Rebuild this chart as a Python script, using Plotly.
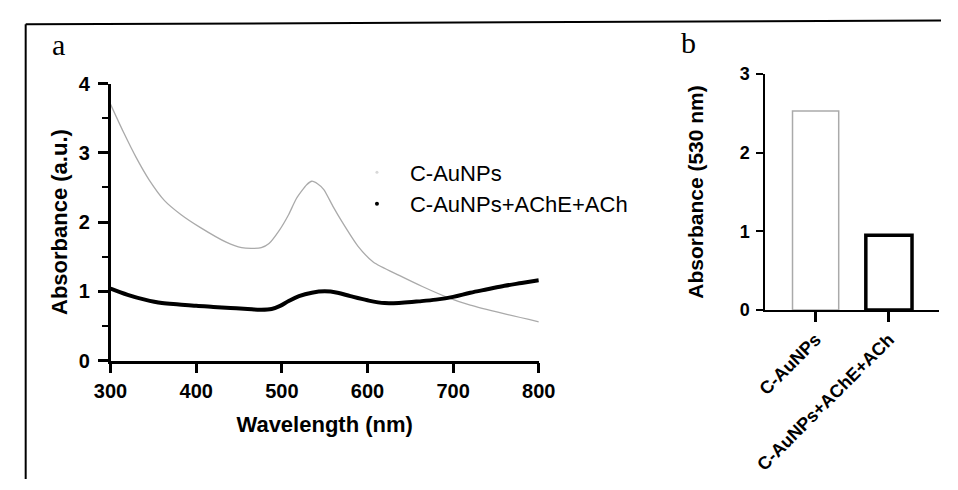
import plotly.graph_objects as go

# ---------------- data ----------------
# Panel a: UV-vis spectra
wl_aunp = [300, 315, 330, 345, 363, 382, 405, 435, 453, 465, 476, 485, 497, 508, 517,
           529, 535, 542, 549, 560, 570, 589, 607, 637, 664, 694, 720, 758, 800]
abs_aunp = [3.70, 3.30, 2.93, 2.61, 2.31, 2.11, 1.92, 1.71, 1.63, 1.62, 1.63, 1.69, 1.88, 2.11, 2.34,
            2.54, 2.59, 2.55, 2.47, 2.22, 2.01, 1.65, 1.42, 1.23, 1.07, 0.91, 0.80, 0.68, 0.56]

wl_mix = [300, 320, 340, 360, 380, 400, 420, 440, 460, 475, 488, 498, 508, 520, 535, 550, 565,
          580, 600, 620, 640, 660, 680, 700, 720, 740, 760, 780, 800]
abs_mix = [1.04, 0.95, 0.88, 0.83, 0.81, 0.79, 0.775, 0.76, 0.745, 0.735, 0.745, 0.79, 0.86, 0.93,
           0.98, 1.00, 0.98, 0.93, 0.87, 0.83, 0.835, 0.855, 0.88, 0.92, 0.98, 1.03, 1.08, 1.12, 1.16]

series_names = ["C-AuNPs", "C-AuNPs+AChE+ACh"]

# Panel b: absorbance at 530 nm
bar_categories = ["C-AuNPs", "C-AuNPs+AChE+ACh"]
bar_values = [2.53, 0.95]

x_ticks_a = [300, 400, 500, 600, 700, 800]
y_ticks_a = [0, 1, 2, 3, 4]
y_ticks_b = [0, 1, 2, 3]

# ---------------- figure ----------------
W, H = 958, 490
FONT = "Liberation Sans, Arial, sans-serif"
SERIF = "Liberation Serif, Times New Roman, serif"
GRAY = "#aaaaaa"

fig = go.Figure()

fig.add_trace(go.Scatter(x=wl_aunp, y=abs_aunp, mode="lines", name=series_names[0],
                         line=dict(color=GRAY, width=1.3, shape="spline", smoothing=0.6),
                         showlegend=False, xaxis="x", yaxis="y"))
fig.add_trace(go.Scatter(x=wl_mix, y=abs_mix, mode="lines", name=series_names[1],
                         line=dict(color="black", width=4, shape="spline", smoothing=1.0),
                         showlegend=False, xaxis="x", yaxis="y"))
# legend entries (as in the original, just small symbols)
fig.add_trace(go.Scatter(x=[None], y=[None], mode="markers", name=series_names[0],
                         marker=dict(color="#d8d8d8", size=3), xaxis="x", yaxis="y"))
fig.add_trace(go.Scatter(x=[None], y=[None], mode="markers", name=series_names[1],
                         marker=dict(color="black", size=4), xaxis="x", yaxis="y"))

fig.add_trace(go.Bar(x=bar_categories, y=bar_values, width=0.63,
                     marker=dict(color="white", line=dict(color=[GRAY, "black"], width=[1.5, 3.5])),
                     showlegend=False, xaxis="x2", yaxis="y2"))


def px_x(p):
    return p / W


def px_y(p):
    return 1 - p / H


tickfont = dict(family=FONT, size=20, color="black", weight="bold")
titlefont = dict(family=FONT, size=22, color="black", weight="bold")

fig.update_layout(
    width=W, height=H,
    margin=dict(l=0, r=0, t=0, b=0),
    paper_bgcolor="white", plot_bgcolor="white",
    font=dict(family=FONT, color="black"),
    xaxis=dict(domain=[px_x(97), px_x(541)], range=[300, 800], anchor="y",
               tickmode="array", tickvals=x_ticks_a, ticks="outside", ticklen=10, tickwidth=2.5,
               tickcolor="black", showline=True, linewidth=2.5, linecolor="black",
               showgrid=False, zeroline=False, tickfont=tickfont, ticklabelstandoff=1,
               title=dict(text="Wavelength (nm)", font=titlefont, standoff=16)),
    yaxis=dict(domain=[px_y(366), px_y(76)], range=[0, 4], anchor="x",
               tickmode="array", tickvals=y_ticks_a, ticks="outside", ticklen=10, tickwidth=2.5,
               tickcolor="black", showline=True, linewidth=2.5, linecolor="black",
               showgrid=False, zeroline=False, tickfont=tickfont, ticklabelstandoff=4,
               minor=dict(dtick=0.5, ticks="outside", ticklen=6, tickwidth=2, tickcolor="black"),
               title=dict(text="Absorbance (a.u.)", font=titlefont, standoff=5)),
    xaxis2=dict(domain=[px_x(776), px_x(956)], range=[-0.684, 1.684], anchor="y2",
                type="category", ticks="outside", ticklen=10, tickwidth=2.5, tickcolor="black",
                showline=True, linewidth=2, linecolor="black", showgrid=False,
                tickangle=-45, tickfont=dict(family=FONT, size=18, color="black", weight="bold")),
    yaxis2=dict(domain=[px_y(313), px_y(66)], range=[0, 3], anchor="x2",
                tickmode="array", tickvals=y_ticks_b, ticks="outside", ticklen=7, tickwidth=2,
                tickcolor="black", showline=True, linewidth=2, linecolor="black",
                showgrid=False, zeroline=False,
                tickfont=dict(family=FONT, size=18, color="black", weight="bold"),
                ticklabelstandoff=3,
                title=dict(text="Absorbance (530 nm)",
                           font=dict(family=FONT, size=21, color="black", weight="bold"),
                           standoff=30)),
    legend=dict(x=px_x(339), y=px_y(147), xanchor="left", yanchor="top",
                bgcolor="rgba(0,0,0,0)", itemwidth=56,
                font=dict(family=FONT, size=22, color="black")),
    showlegend=True,
)

# panel labels
fig.add_annotation(text="a", x=px_x(43), y=px_y(35), xref="paper", yref="paper",
                   xanchor="center", yanchor="middle", showarrow=False,
                   font=dict(family=SERIF, size=30, color="black"))
fig.add_annotation(text="b", x=px_x(696), y=px_y(33), xref="paper", yref="paper",
                   xanchor="center", yanchor="middle", showarrow=False,
                   font=dict(family=SERIF, size=30, color="black"))

# outer frame (top and left borders)
fig.add_shape(type="line", xref="paper", yref="paper", x0=px_x(9), y0=px_y(14), x1=1, y1=px_y(10),
              line=dict(color="black", width=2))
fig.add_shape(type="line", xref="paper", yref="paper", x0=px_x(9), y0=px_y(14), x1=px_x(9), y1=0,
              line=dict(color="black", width=2))

fig.write_html(
    "out.html",
    post_script="document.body.style.margin='0';document.documentElement.style.overflow='hidden';",
)
